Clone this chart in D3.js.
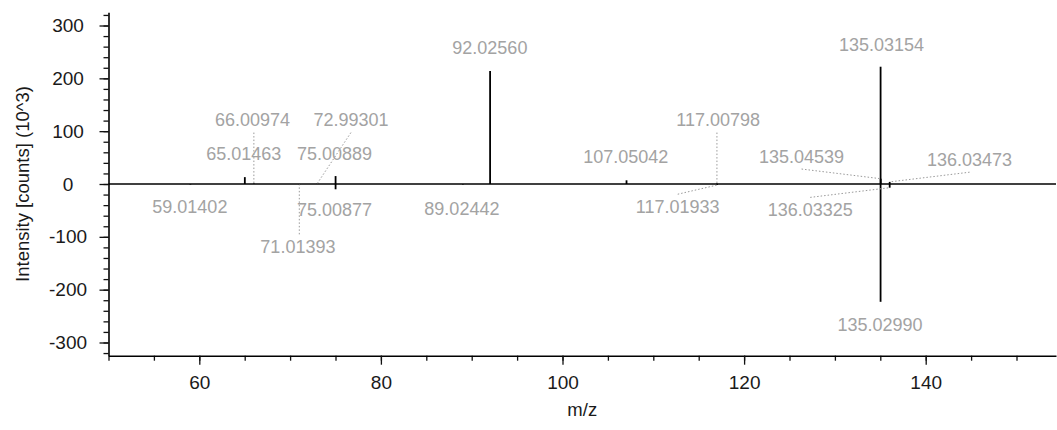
<!DOCTYPE html>
<html>
<head>
<meta charset="utf-8">
<script src="https://cdn.jsdelivr.net/npm/d3@7"></script>
<style>
  html, body { margin: 0; padding: 0; background: #fff; }
  svg { display: block; }
</style>
</head>
<body>
<svg id="chart" width="1057" height="430"></svg>
<script>
// ---- data (m/z, intensity in 10^3 counts; positive = top spectrum, negative = mirrored bottom) ----
const peakMz = [59.01402, 65.01463, 66.00974, 71.01393, 72.99301, 75.00889, 75.00877, 89.02442,
                92.02560, 107.05042, 117.00798, 117.01933, 135.03154, 135.04539, 135.02990,
                136.03473, 136.03325];
const peakIntensity = [-1, 13, 1, -1, 1, 15, -10, -1,
                       214, 7, 1, -2, 222, 10, -223,
                       4, -7];
// label anchor positions, in data units (m/z, intensity)
const labelMz = [58.96, 64.89, 65.85, 70.86, 76.70, 74.90, 74.90, 88.92,
                 92.00, 106.96, 117.15, 112.69, 135.14, 126.33, 134.96,
                 144.83, 127.28];
const labelIntensity = [-43, 57, 121, -119, 121, 57, -49, -46,
                        258, 52, 121, -43, 263, 52, -267,
                        46, -49];
const xTickValues = [60, 80, 100, 120, 140];
const yTickValues = [-300, -200, -100, 0, 100, 200, 300];
const xMinorTicks = d3.range(50, 151, 5);
const yMinorTicks = d3.range(-320, 321, 20);
const xTitle = "m/z";
const yTitle = "Intensity [counts] (10^3)";

// ---- scales ----
const x = d3.scaleLinear().domain([50, 154.35]).range([108.5, 1056]);
const y = d3.scaleLinear().domain([-325, 325]).range([355.7, 12.3]);

const svg = d3.select("#chart");
const font = "'Liberation Sans', Arial, sans-serif";
const plainFormat = d => String(d);

// ---- axes ----
const gx = svg.append("g").attr("transform", `translate(0,${y(-325)})`);
gx.call(d3.axisBottom(x).tickValues(xMinorTicks).tickSize(5).tickSizeOuter(0).tickFormat(""));
gx.call(g => g.select(".domain").remove());
const gx2 = svg.append("g").attr("transform", `translate(0,${y(-325)})`);
gx2.call(d3.axisBottom(x).tickValues(xTickValues).tickSize(9).tickSizeOuter(0).tickFormat(plainFormat));
gx2.select(".domain").attr("stroke-width", 1.6);
gx2.selectAll(".tick text").attr("font-family", font).attr("font-size", 19)
   .attr("fill", "#1a1a1a").attr("y", 20);

const gy = svg.append("g").attr("transform", `translate(${x(50)},0)`);
gy.call(d3.axisLeft(y).tickValues(yMinorTicks).tickSize(5).tickSizeOuter(0).tickFormat(""));
gy.call(g => g.select(".domain").remove());
const gy2 = svg.append("g").attr("transform", `translate(${x(50)},0)`);
gy2.call(d3.axisLeft(y).tickValues(yTickValues).tickSize(9).tickSizeOuter(0).tickFormat(plainFormat));
gy2.select(".domain").attr("stroke-width", 1.6);
gy2.selectAll(".tick text").attr("font-family", font).attr("font-size", 19)
   .attr("fill", "#1a1a1a").attr("text-anchor", "middle").attr("x", -40.5);

svg.selectAll(".tick line").attr("stroke", "#111").attr("stroke-width", 1.3);

// axis titles
svg.append("text").attr("x", (x.range()[0] + x.range()[1]) / 2).attr("y", 416)
   .attr("text-anchor", "middle").attr("font-family", font).attr("font-size", 18.5)
   .attr("fill", "#1a1a1a").text(xTitle);
svg.append("text").attr("transform", `translate(29,${y(0)}) rotate(-90)`)
   .attr("text-anchor", "middle").attr("font-family", font).attr("font-size", 18.5)
   .attr("fill", "#1a1a1a").text(yTitle);

// ---- zero baseline ----
svg.append("line").attr("x1", x(50)).attr("x2", x(154.35)).attr("y1", y(0)).attr("y2", y(0))
   .attr("stroke", "#000").attr("stroke-width", 1.6);

// ---- peaks ----
const peaks = peakMz.map((m, i) => ({
  mz: m, v: peakIntensity[i], lmz: labelMz[i], lv: labelIntensity[i],
  text: d3.format(".5f")(m)
}));

svg.append("g").selectAll("line").data(peaks).join("line")
   .attr("x1", d => x(d.mz)).attr("x2", d => x(d.mz))
   .attr("y1", y(0)).attr("y2", d => y(d.v))
   .attr("stroke", "#000").attr("stroke-width", 1.8);

// ---- leader lines for displaced labels ----
const leaders = peaks.filter(d => {
  const dx = Math.abs(x(d.lmz) - x(d.mz));
  const gap = Math.abs(y(d.lv) - y(d.v)) - 12.5;
  return dx > 6 || gap > 25;
});
svg.append("g").selectAll("line").data(leaders).join("line")
   .attr("x1", d => Math.abs(x(d.lmz) - x(d.mz)) < 4 ? x(d.mz) : x(d.lmz))
   .attr("y1", d => y(d.lv) + (y(d.lv) < y(d.v) ? 12.5 : -12.5))
   .attr("x2", d => x(d.mz)).attr("y2", d => y(d.v))
   .attr("stroke", "#9a9a9a").attr("stroke-width", 1)
   .attr("stroke-dasharray", "1.5,2");

// ---- labels ----
svg.append("g").selectAll("text").data(peaks).join("text")
   .attr("x", d => x(d.lmz)).attr("y", d => y(d.lv)).attr("dy", "0.35em")
   .attr("text-anchor", "middle").attr("font-family", font).attr("font-size", 18)
   .attr("fill", "#a3a3a3").text(d => d.text);
</script>
</body>
</html>
